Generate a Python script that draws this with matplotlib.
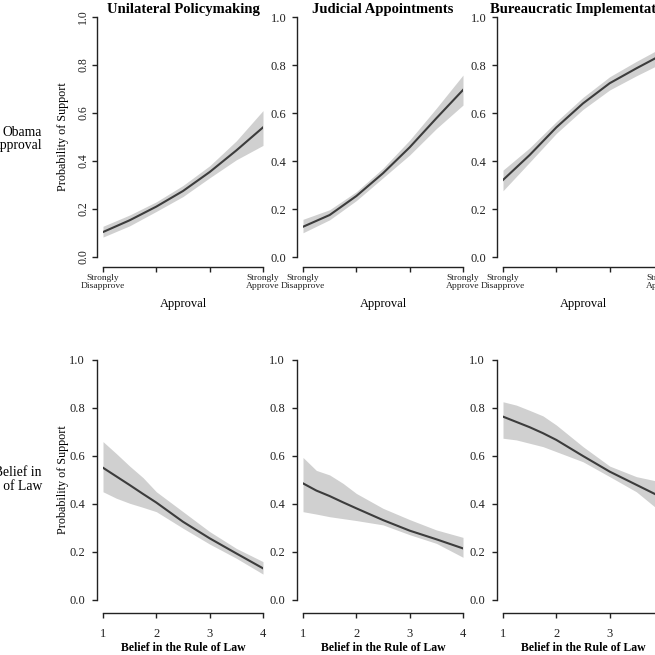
import matplotlib
matplotlib.use("Agg")
import matplotlib.pyplot as plt

plt.rcParams['font.family'] = ['Liberation Serif', 'DejaVu Serif']

# values
titles = ["Unilateral Policymaking", "Judicial Appointments", "Bureaucratic Implementation"]
row_labels = ["Obama\nApproval", "Belief in\nRule of Law"]

x_approval = [1, 1.5, 2, 2.5, 3, 3.5, 4]
approval_ticklabels = ["Strongly\nDisapprove", "", "", "Strongly\nApprove"]

uni_appr = [0.104, 0.153, 0.210, 0.275, 0.354, 0.444, 0.540]
uni_appr_lo = [0.083, 0.130, 0.190, 0.252, 0.330, 0.405, 0.465]
uni_appr_hi = [0.128, 0.175, 0.230, 0.298, 0.380, 0.484, 0.610]

jud_appr = [0.126, 0.175, 0.254, 0.349, 0.457, 0.578, 0.696]
jud_appr_lo = [0.101, 0.155, 0.235, 0.330, 0.425, 0.535, 0.633]
jud_appr_hi = [0.157, 0.197, 0.272, 0.370, 0.487, 0.620, 0.758]

bur_appr = [0.321, 0.425, 0.540, 0.640, 0.724, 0.786, 0.845]
bur_appr_lo = [0.276, 0.395, 0.515, 0.615, 0.696, 0.755, 0.810]
bur_appr_hi = [0.362, 0.455, 0.564, 0.665, 0.751, 0.815, 0.875]

x_law = [1, 1.25, 1.5, 1.75, 2, 2.5, 3, 3.5, 4]
law_ticks = [1, 2, 3, 4]

uni_law = [0.551, 0.515, 0.479, 0.442, 0.406, 0.326, 0.257, 0.194, 0.132]
uni_law_lo = [0.451, 0.424, 0.403, 0.386, 0.368, 0.299, 0.233, 0.174, 0.108]
uni_law_hi = [0.660, 0.610, 0.558, 0.510, 0.451, 0.368, 0.285, 0.215, 0.160]

jud_law = [0.486, 0.456, 0.433, 0.407, 0.382, 0.333, 0.289, 0.253, 0.215]
jud_law_lo = [0.368, 0.358, 0.347, 0.339, 0.331, 0.313, 0.272, 0.236, 0.178]
jud_law_hi = [0.594, 0.540, 0.521, 0.486, 0.444, 0.382, 0.335, 0.292, 0.261]

bur_law = [0.764, 0.742, 0.720, 0.695, 0.667, 0.600, 0.535, 0.480, 0.425]
bur_law_lo = [0.674, 0.667, 0.653, 0.639, 0.618, 0.576, 0.514, 0.451, 0.360]
bur_law_hi = [0.826, 0.812, 0.790, 0.767, 0.729, 0.639, 0.558, 0.514, 0.490]

top = [(uni_appr, uni_appr_lo, uni_appr_hi),
       (jud_appr, jud_appr_lo, jud_appr_hi),
       (bur_appr, bur_appr_lo, bur_appr_hi)]
bottom = [(uni_law, uni_law_lo, uni_law_hi),
          (jud_law, jud_law_lo, jud_law_hi),
          (bur_law, bur_law_lo, bur_law_hi)]

W = 655.0
fig = plt.figure(figsize=(6.55, 6.55), dpi=100)

def px_axes(x0, x1, ytop, ybot):
    return fig.add_axes([x0 / W, 1 - ybot / W, (x1 - x0) / W, (ybot - ytop) / W])

def style(ax, xoff, yoff):
    for s in ['top', 'right']:
        ax.spines[s].set_visible(False)
    ax.spines['left'].set_position(('outward', xoff))
    ax.spines['bottom'].set_position(('outward', yoff))
    ax.spines['left'].set_bounds(0, 1)
    ax.spines['bottom'].set_bounds(1, 4)
    for s in ['left', 'bottom']:
        ax.spines[s].set_linewidth(1.0)
        ax.spines[s].set_color('#222222')
    ax.set_xlim(1, 4)
    ax.set_ylim(0, 1)
    ax.set_yticks([0, 0.2, 0.4, 0.6, 0.8, 1.0])
    ax.set_yticklabels(["0.0", "0.2", "0.4", "0.6", "0.8", "1.0"])
    ax.tick_params(length=3.6, width=1.0, color='#222222', labelsize=9, labelcolor='#222222')

col_x = [103, 303, 503]

for i in range(3):
    # top row: approval
    ax = px_axes(col_x[i], col_x[i] + 160, 17, 257)
    m, lo, hi = top[i]
    ax.fill_between(x_approval, lo, hi, color='#d0d0d0', linewidth=0)
    ax.plot(x_approval, m, color='#3c3c3c', lw=1.5)
    style(ax, 4.3, 7.2)
    ax.set_xticks([1, 2, 3, 4])
    ax.set_xticklabels(approval_ticklabels, fontsize=6.8, linespacing=1.0)
    ax.tick_params(axis='x', pad=1.5)
    ax.set_xlabel("Approval", fontsize=9, labelpad=6)
    if i == 0:
        ax.tick_params(axis='y', pad=2, labelsize=8.5)
        for t in ax.get_yticklabels():
            t.set_rotation(90)
            t.set_va('center')
    else:
        ax.tick_params(axis='y', pad=4)
    fig.text((col_x[i] + 80) / W, 1 - 9 / W, titles[i], ha='center', va='center',
             fontsize=10.5, fontweight='bold')

    # bottom row: belief in the rule of law
    ax = px_axes(col_x[i], col_x[i] + 160, 360, 600)
    m, lo, hi = bottom[i]
    ax.fill_between(x_law, lo, hi, color='#d0d0d0', linewidth=0)
    ax.plot(x_law, m, color='#3c3c3c', lw=1.5)
    style(ax, 4.3, 9.4)
    ax.set_xticks(law_ticks)
    ax.set_xticklabels([str(v) for v in law_ticks])
    ax.tick_params(axis='x', pad=7.5)
    ax.tick_params(axis='y', pad=5)
    ax.set_xlabel("Belief in the Rule of Law", fontsize=8.5, labelpad=1, fontweight='bold')

fig.text(63 / W, 1 - 137 / W, "Probability of Support", rotation=90, ha='center', va='center', fontsize=8.7)
fig.text(63 / W, 1 - 480 / W, "Probability of Support", rotation=90, ha='center', va='center', fontsize=8.7)

fig.text(42 / W, 1 - 139 / W, row_labels[0], ha='right', va='center', fontsize=9.8, linespacing=1.1)
fig.text(42 / W, 1 - 480 / W, row_labels[1], ha='right', va='center', fontsize=9.8, linespacing=1.1)

fig.savefig("out.png", dpi=100)
